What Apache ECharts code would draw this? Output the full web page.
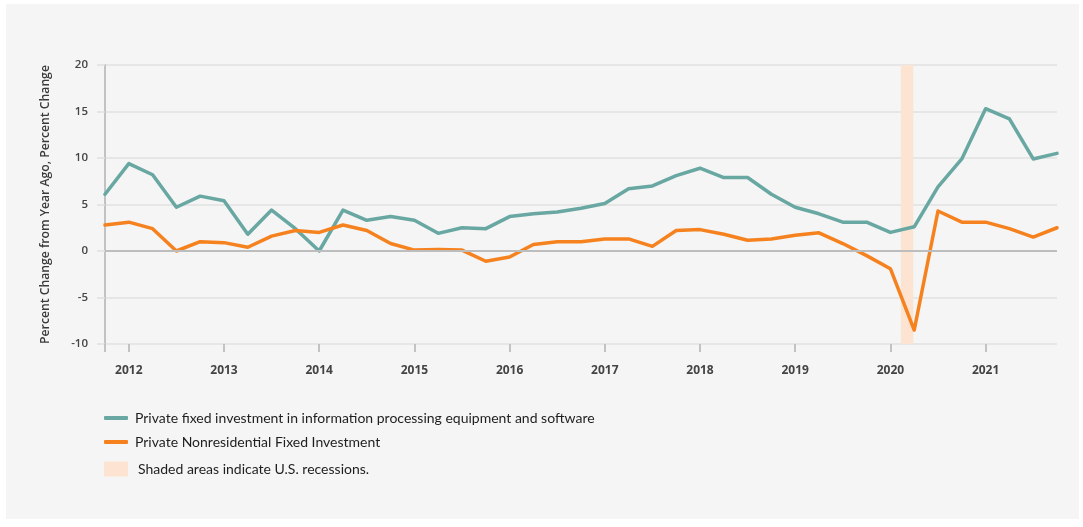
<!DOCTYPE html>
<html>
<head>
<meta charset="utf-8">
<script src="https://cdn.jsdelivr.net/npm/echarts@6/dist/echarts.min.js"></script>
<style>
  html, body { margin: 0; padding: 0; background: #ffffff; }
  #panel { position: absolute; left: 6px; top: 4px; width: 1073px; height: 515px; background: #f4f5f4; }
  #chart { position: absolute; left: 0; top: 0; width: 1083px; height: 527px; }
</style>
</head>
<body>
<div id="panel"></div>
<div id="chart"></div>
<script>
// Quarterly observations, 2011 Q4 .. 2021 Q4
const quarters = [
  '2011Q4',
  '2012Q1','2012Q2','2012Q3','2012Q4',
  '2013Q1','2013Q2','2013Q3','2013Q4',
  '2014Q1','2014Q2','2014Q3','2014Q4',
  '2015Q1','2015Q2','2015Q3','2015Q4',
  '2016Q1','2016Q2','2016Q3','2016Q4',
  '2017Q1','2017Q2','2017Q3','2017Q4',
  '2018Q1','2018Q2','2018Q3','2018Q4',
  '2019Q1','2019Q2','2019Q3','2019Q4',
  '2020Q1','2020Q2','2020Q3','2020Q4',
  '2021Q1','2021Q2','2021Q3','2021Q4'
];

const infoProcessing = [
  6.1,
  9.4, 8.2, 4.7, 5.9,
  5.4, 1.8, 4.4, 2.4,
  0.0, 4.4, 3.3, 3.7,
  3.3, 1.9, 2.5, 2.4,
  3.7, 4.0, 4.2, 4.6,
  5.1, 6.7, 7.0, 8.1,
  8.9, 7.9, 7.9, 6.1,
  4.7, 4.0, 3.1, 3.1,
  2.0, 2.6, 6.9, 9.9,
  15.3, 14.2, 9.9, 10.5
];

const nonresidential = [
  2.8,
  3.1, 2.4, 0.0, 1.0,
  0.9, 0.4, 1.6, 2.2,
  2.0, 2.8, 2.2, 0.8,
  0.1, 0.15, 0.1, -1.1,
  -0.65, 0.7, 1.0, 1.0,
  1.3, 1.3, 0.5, 2.2,
  2.3, 1.8, 1.15, 1.3,
  1.7, 1.95, 0.8, -0.5,
  -1.9, -8.5, 4.3, 3.1,
  3.1, 2.4, 1.5, 2.5
];

// Recession period in decimal years (Feb 2020 - Apr 2020)
const recession = [2020.11, 2020.24];
const firstPeriod = 2011.75; // decimal year of first quarter

const yTicks = { min: -10, max: 20, step: 5 };

const seriesNames = [
  'Private fixed investment in information processing equipment and software',
  'Private Nonresidential Fixed Investment',
  'Shaded areas indicate U.S. recessions.'
];

const toIndex = y => (y - firstPeriod) * 4;

const chart = echarts.init(document.getElementById('chart'), null, { renderer: 'canvas' });

const option = {
  backgroundColor: 'transparent',
  animation: false,
  grid: { left: 105, right: 26, top: 65, bottom: 183, containLabel: false },
  legend: [
    {
      data: [
        { name: seriesNames[0], icon: 'roundRect' },
        { name: seriesNames[1], icon: 'roundRect' }
      ],
      orient: 'vertical',
      left: 104,
      top: 409,
      padding: 0,
      itemWidth: 24,
      itemHeight: 4,
      itemGap: 6,
      selectedMode: false,
      textStyle: { fontFamily: 'Lato', fontSize: 14, color: '#1e1e1e', lineHeight: 18, padding: [0, 0, 0, 2] }
    },
    {
      data: [{ name: seriesNames[2], icon: 'rect' }],
      orient: 'vertical',
      left: 104,
      top: 460,
      padding: 0,
      itemWidth: 24,
      itemHeight: 15,
      selectedMode: false,
      textStyle: { fontFamily: 'Lato', fontSize: 14, color: '#1e1e1e', lineHeight: 18, padding: [0, 0, 0, 5] }
    }
  ],
  xAxis: [
    {
      type: 'category',
      data: quarters,
      boundaryGap: false,
      axisLine: { show: false, onZero: false },
      axisTick: {
        show: true,
        length: 8,
        interval: (i) => i % 4 === 1 || i === 0,
        lineStyle: { color: '#c2c2c2', width: 2 }
      },
      axisLabel: {
        interval: (i) => i % 4 === 1,
        formatter: (v) => v.slice(0, 4),
        margin: 21,
        fontFamily: 'Open Sans',
        fontWeight: 'bold',
        fontSize: 12,
        color: '#444'
      },
      splitLine: { show: false }
    },
    {
      type: 'value',
      min: 0,
      max: quarters.length - 1,
      show: false
    }
  ],
  yAxis: {
    type: 'value',
    min: yTicks.min,
    max: yTicks.max,
    interval: yTicks.step,
    name: 'Percent Change from Year Ago, Percent Change',
    nameLocation: 'middle',
    nameGap: 53,
    nameTextStyle: { fontFamily: 'Open Sans', fontSize: 12.2, fontWeight: 600, color: '#3a3a3a' },
    axisLine: { show: true, lineStyle: { color: '#c2c2c2', width: 2 } },
    axisTick: { show: true, length: 8, lineStyle: { color: '#e0e0e0', width: 1.5 } },
    axisLabel: { margin: 17, fontFamily: 'Open Sans', fontSize: 11.5, fontWeight: 600, color: '#444' },
    splitLine: { show: true, lineStyle: { color: '#e0e0e0', width: 1.5 } }
  },
  series: [
    {
      name: seriesNames[2],
      type: 'line',
      xAxisIndex: 1,
      data: [],
      color: '#fde4d2',
      itemStyle: { color: '#fde4d2' },
      z: 1,
      markArea: {
        silent: true,
        itemStyle: { color: '#fde4d2' },
        data: [[{ xAxis: toIndex(recession[0]) }, { xAxis: toIndex(recession[1]) }]]
      },
      markLine: {
        silent: true,
        symbol: 'none',
        label: { show: false },
        lineStyle: { color: '#bdbdbd', width: 2, type: 'solid' },
        data: [{ yAxis: 0 }]
      }
    },
    {
      name: seriesNames[0],
      type: 'line',
      data: infoProcessing,
      color: '#68a7a2',
      symbol: 'none',
      smooth: false,
      lineStyle: { color: '#68a7a2', width: 3.5, join: 'round', cap: 'round' },
      z: 3
    },
    {
      name: seriesNames[1],
      type: 'line',
      data: nonresidential,
      color: '#f6821f',
      symbol: 'none',
      smooth: false,
      lineStyle: { color: '#f6821f', width: 3.5, join: 'round', cap: 'round' },
      z: 3
    }
  ]
};

chart.setOption(option);
</script>
</body>
</html>
